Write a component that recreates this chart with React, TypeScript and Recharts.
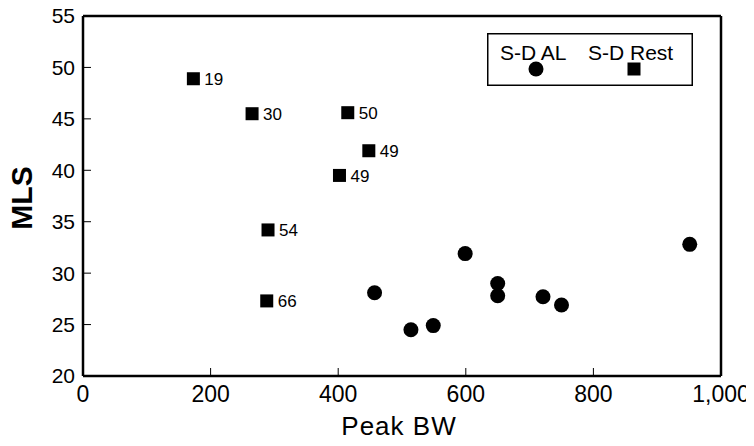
import { Label, Legend, ReferenceLine, Scatter, ScatterChart, XAxis, YAxis } from 'recharts'

const FONT = '"Liberation Sans", Arial, Helvetica, sans-serif'

// S-D Rest group (squares, labelled)
const restBW = [173, 265, 415, 448, 402, 290, 288]
const restMLS = [48.9, 45.5, 45.6, 41.9, 39.5, 34.2, 27.3]
const restLabels = ['19', '30', '50', '49', '49', '54', '66']

// S-D AL group (circles)
const alBW = [457, 514, 549, 599, 650, 650, 721, 750, 951]
const alMLS = [28.1, 24.5, 24.9, 31.9, 29, 27.8, 27.7, 26.9, 32.8]

const xTicks = [0, 200, 400, 600, 800, 1000]
const yTicks = [20, 25, 30, 35, 40, 45, 50, 55]

const restData = restBW.map((bw, i) => ({ bw, mls: restMLS[i], label: restLabels[i] }))
const alData = alBW.map((bw, i) => ({ bw, mls: alMLS[i] }))

const SquareShape = (props: any) => {
  const { cx, cy, payload } = props
  return (
    <g>
      <rect x={cx - 6.5} y={cy - 6.5} width={13} height={13} fill="#000" />
      <text x={cx + 11} y={cy} dy="0.36em" fontSize={17} fontFamily={FONT} fill="#000">
        {payload.label}
      </text>
    </g>
  )
}

const CircleShape = (props: any) => {
  const { cx, cy } = props
  return <circle cx={cx} cy={cy} r={7.5} fill="#000" />
}

const LegendBox = () => (
  <svg width={206} height={53} style={{ display: 'block' }}>
    <rect x={0.75} y={0.75} width={204.5} height={51.5} fill="#fff" stroke="#000" strokeWidth={1.5} />
    <text x={13} y={27} fontSize={21} fontFamily={FONT} fill="#000">S-D AL</text>
    <circle cx={49} cy={36} r={7.5} fill="#000" />
    <text x={101} y={27} fontSize={21} fontFamily={FONT} fill="#000">S-D Rest</text>
    <rect x={140.5} y={29.5} width={13} height={13} fill="#000" />
  </svg>
)

const MlsTitle = (props: any) => {
  const { x, y, height } = props.viewBox
  const cx = x + 21
  const cy = y + height / 2 + 2
  return (
    <text x={cx} y={cy} transform={`rotate(-90, ${cx}, ${cy})`} textAnchor="middle" dy="0.36em"
      fontSize={30} fontWeight="bold" fontFamily={FONT} fill="#000">
      MLS
    </text>
  )
}

const BwTitle = (props: any) => {
  const { x, y, width, height } = props.viewBox
  return (
    <text x={x + width / 2 - 3} y={y + height - 11} textAnchor="middle" fontSize={26}
      letterSpacing={1} fontFamily={FONT} fill="#000">
      Peak BW
    </text>
  )
}

export default function App() {
  return (
    <div style={{ margin: '-8px 0 0 -8px', background: '#fff', width: 754, height: 446 }}>
      <ScatterChart width={754} height={446} margin={{ top: 16, right: 33, bottom: 0, left: 0 }}>
        <XAxis
          type="number"
          dataKey="bw"
          domain={[0, 1000]}
          ticks={xTicks}
          height={70}
          tickSize={-8}
          tickMargin={18}
          tickFormatter={(v: number) => v.toLocaleString('en-US')}
          tick={{ fill: '#000', fontSize: 23, fontFamily: FONT }}
          axisLine={{ stroke: '#000', strokeWidth: 2.5 }}
          tickLine={{ stroke: '#000', strokeWidth: 1 }}
          allowDataOverflow
        >
          <Label content={BwTitle} />
        </XAxis>
        <YAxis
          type="number"
          dataKey="mls"
          domain={[20, 55]}
          ticks={yTicks}
          width={83}
          tickSize={-8}
          tickMargin={16}
          tick={{ fill: '#000', fontSize: 21, fontFamily: FONT }}
          axisLine={{ stroke: '#000', strokeWidth: 2.5 }}
          tickLine={{ stroke: '#000', strokeWidth: 1 }}
          allowDataOverflow
        >
          <Label content={MlsTitle} />
        </YAxis>
        <ReferenceLine y={55} stroke="#000" strokeWidth={2.5} />
        <ReferenceLine x={1000} stroke="#000" strokeWidth={2.5} />
        <Legend
          layout="vertical"
          align="center"
          verticalAlign="middle"
          content={LegendBox}
          wrapperStyle={{ left: 487, top: 33, width: 206, lineHeight: 0 }}
        />
        <Scatter name="S-D AL" data={alData} shape={CircleShape} isAnimationActive={false} />
        <Scatter name="S-D Rest" data={restData} shape={SquareShape} isAnimationActive={false} />
      </ScatterChart>
    </div>
  )
}
